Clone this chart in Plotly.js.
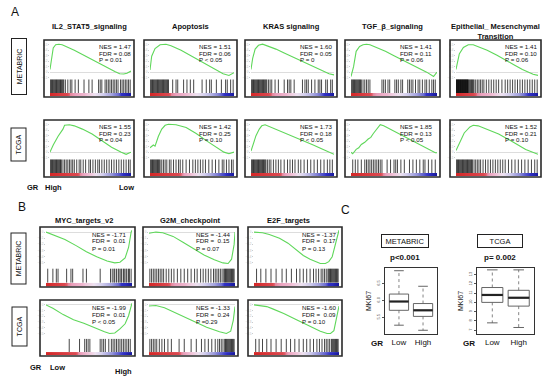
<!DOCTYPE html>
<html><head><meta charset="utf-8">
<script src="https://cdn.plot.ly/plotly-3.0.1.min.js"></script>
<style>html,body{margin:0;padding:0;background:#fff}#chart{width:550px;height:381px}</style>
</head><body><div id="chart"></div>
<script>
// ---------------- DATA ----------------
// Panel A titles / stats
const titlesA = ['IL2_STAT5_signaling','Apoptosis','KRAS signaling','TGF_\u03b2_signaling','Epithelial_ Mesenchymal<br>Transition'];
const nesA_METABRIC = [1.47,1.51,1.60,1.41,1.41];
const fdrA_METABRIC = [0.08,0.06,0.05,0.11,0.10];
const pA_METABRIC = ['P = 0.01','P < 0.05','P = 0','P = 0.06','P = 0.06'];
const nesA_TCGA = [1.55,1.42,1.73,1.85,1.52];
const fdrA_TCGA = [0.23,0.25,0.18,0.13,0.21];
const pA_TCGA = ['P = 0.04','P = 0.10','P < 0.05','P < 0.05','P = 0.10'];
// Panel B titles / stats
const titlesB = ['MYC_targets_v2','G2M_checkpoint','E2F_targets'];
const nesB_METABRIC = [-1.71,-1.44,-1.37];
const fdrB_METABRIC = [0.01,0.15,0.17];
const pB_METABRIC = ['P = 0.01','P = 0.07','P = 0.13'];
const nesB_TCGA = [-1.99,-1.33,-1.60];
const fdrB_TCGA = [0.01,0.24,0.09];
const pB_TCGA = ['P < 0.05','P =0.29','P = 0.10'];

// Running enrichment score curves (x = rank position %, y = ES)
const esX_A1=[0,2,4,7,11,15,20,30,40,50,60,70,80,86,91,95,100];
const esY_A1=[0.05,0.3,0.44,0.5,0.51,0.5,0.47,0.4,0.32,0.24,0.16,0.08,0.01,-0.03,-0.035,-0.02,0.02];
const esX_A2=[0,2,6,12,19,25,37,50,62,75,87,94,100];
const esY_A2=[0.04,0.29,0.43,0.5,0.51,0.48,0.4,0.29,0.18,0.07,-0.03,-0.06,-0.01];
const esX_A3=[0,2,5,9,14,20,30,40,50,60,70,80,88,94,100];
const esY_A3=[0.05,0.25,0.42,0.49,0.51,0.48,0.42,0.35,0.28,0.2,0.13,0.06,0.0,-0.03,-0.05];
const esX_A4=[0,3,6,10,14,18,22,30,40,50,60,70,80,88,96,100];
const esY_A4=[-0.08,0.1,0.38,0.47,0.5,0.51,0.5,0.45,0.38,0.3,0.22,0.14,0.06,0.0,-0.08,0.0];
const esX_A5=[0,4,9,15,21,30,38,50,60,70,81,88,94,100];
const esY_A5=[0.05,0.33,0.45,0.5,0.5,0.45,0.4,0.31,0.22,0.14,0.05,0.0,-0.04,-0.06];
const esX_A6=[0,4,10,16,18,24,30,40,52,64,76,88,94,100];
const esY_A6=[0.0,0.13,0.29,0.42,0.49,0.5,0.48,0.42,0.33,0.21,0.09,0.0,-0.04,0.0];
const esX_A7=[0,4,6,10,14,18,22,31,43,55,67,80,88,94,100];
const esY_A7=[0.08,0.13,0.11,0.29,0.42,0.49,0.51,0.5,0.45,0.34,0.21,0.08,0.0,-0.03,0.0];
const esX_A8=[0,3,6,10,13,17,25,35,45,55,65,75,85,93,100];
const esY_A8=[0.02,0.15,0.3,0.42,0.48,0.5,0.45,0.39,0.33,0.26,0.2,0.13,0.06,0.0,-0.04];
const esX_A9=[0,2,6,9,12,16,20,23,26,30,34,38,44,60,76,92,98,100];
const esY_A9=[0.0,-0.03,0.05,0.08,0.14,0.18,0.24,0.27,0.34,0.41,0.5,0.48,0.43,0.3,0.16,0.04,-0.01,-0.01];
const esX_A10=[0,4,10,17,21,27,35,52,69,85,100];
const esY_A10=[0.03,0.16,0.35,0.46,0.49,0.48,0.43,0.33,0.19,0.05,-0.04];
const esX_B1=[0,10,22,35,47,59,71,80,86,92,96,99,100];
const esY_B1=[0,-0.05,-0.12,-0.22,-0.32,-0.4,-0.47,-0.5,-0.49,-0.42,-0.25,0.0,0.03];
const esX_B2=[0,8,16,28,40,52,64,76,86,92,96,99,100];
const esY_B2=[-0.02,0,-0.01,-0.07,-0.17,-0.27,-0.37,-0.45,-0.5,-0.51,-0.44,-0.2,0];
const esX_B3=[0,10,18,30,40,50,58,66,72,78,84,88,92,96,100];
const esY_B3=[0,-0.01,-0.04,-0.1,-0.18,-0.3,-0.38,-0.44,-0.48,-0.51,-0.51,-0.48,-0.4,-0.2,0.03];
const esX_B4=[0,8,20,32,44,56,68,74,80,86,92,96,99,100];
const esY_B4=[0,-0.06,-0.17,-0.26,-0.32,-0.4,-0.47,-0.5,-0.49,-0.42,-0.33,-0.19,-0.02,0.03];
const esX_B5=[0,8,18,35,51,67,82,90,95,98,100];
const esY_B5=[-0.02,-0.01,-0.05,-0.17,-0.28,-0.39,-0.47,-0.5,-0.46,-0.27,-0.03];
const esX_B6=[0,8,15,22,35,50,65,78,86,90,94,97,100];
const esY_B6=[0,-0.01,-0.03,-0.07,-0.15,-0.26,-0.37,-0.46,-0.5,-0.5,-0.45,-0.25,-0.02];

// Gene-set hit positions (rank %)
const hits_A1=[0,1,2,3,4,5,6,7,8,9,10,11,12,13,14,15,16,17,19,22,25,27,31,35,42,48,52,60,62,64,68,70,72,74,76,78,80,82,84,87,89,91,93,95,97,99];
const hits_A2=[0,1,2,3,4,5,6,7,8,9,10,11,12,13,14,15,16,17,18,19,20,21,22,27,31,33,40,44,48,52,62,67,71,73,79,85,90,92,96,99];
const hits_A3=[0,1,2,3,4,5,6,7,8,9,10,11,12,13,14,15,16,17,18,19,21,23,25,29,33,40,44,46,48,52,62,65,67,69,73,77,81,83,85,90,92,96,98];
const hits_A4=[0,1,2,3,4,5,6,7,8,9,10,11,12,14,16,18,20,22,36,38,40,43,45,51,53,55,58,60,66,68,70,72,75,78,80,83,86,88,91,94,96,98];
const hits_A5=[0,0.5,1,1.5,2,2.5,3,3.5,4,4.5,5,5.5,6,6.5,7,7.5,8,8.5,9,9.5,10,10.5,11,11.5,12,12.5,13,13.5,14,14.5,15,16,17,18,19,20,21,22,24,26,28,30,32,34,37,40,43,46,49,52,56,60,63,66,69,72,75,78,81,84,87,90,93,96,99];
const hits_A6=[0,1,2,3,4,5,6,7,8,9,10,11,12,13,14,16,18,20,22,24,26,28,30,33,36,38,41,44,48,50,53,56,59,61,64,67,70,73,76,79,82,85,88,91,94,97,99];
const hits_A7=[0,1,2,3,4,5,6,7,8,9,10,11,12,14,16,18,20,23,25,28,31,34,36,39,43,47,51,54,57,60,63,66,70,74,78,82,86,88,91,94,97,99];
const hits_A8=[0,1,2,3,4,5,6,7,8,9,10,11,12,13,14,15,16,17,18,20,22,24,27,30,33,36,40,44,47,50,53,57,60,64,68,72,76,80,84,88,92,95,98];
const hits_A9=[2,5,8,12,16,18,20,22,24,26,28,30,32,34,36,42,46,50,52,54,58,62,68,72,76,80,84,86,90,94,98];
const hits_A10=[0,1,2,3,4,5,6,7,8,9,10,11,12,13,14,15,16,17,18,19,20,22,24,26,28,30,33,36,39,42,45,48,51,54,57,60,64,68,72,76,80,84,88,92,96,99];
const hits_B1=[2,8,12,14,24,29,31,43,47,63,75,77,79,80,82,84,85,87,88,90,91,93,94,96,97,99];
const hits_B2=[1,3,5,7,9,11,13,15,17,20,23,26,29,33,37,41,45,49,53,56,60,63,66,69,72,75,77,79,81,83,85,87,88,89,90,91,92,93,94,95,96,97,98,99];
const hits_B3=[3,8,14,20,26,33,38,44,50,54,58,62,66,70,73,76,79,81,83,85,87,88,89,90,91,92,93,94,95,96,97,98,99];
const hits_B4=[27,39,45,47,49,51,63,65,67,69,73,76,78,80,82,84,86,88,90,92,94,96,98];
const hits_B5=[1,3,5,7,9,12,15,18,22,26,35,41,49,55,61,65,69,73,77,80,82,84,86,88,89,90,91,92,93,94,95,96,97,98,99];
const hits_B6=[2,6,10,15,20,26,32,38,43,48,53,58,62,66,70,74,77,80,83,85,87,89,91,92,93,94,95,96,97,98,99];

// Ranked-list metric shown as the red-blue bar
const rankMetricMETABRIC=[1.0,0.95,0.9,0.85,0.8,0.75,0.5,0.45,0.4,0.35,0.3,0.2,0.12,0.05,-0.02,-0.1,-0.18,-0.26,-0.34,-0.45,-0.55,-0.75,-0.8,-0.9,-1.0];
const rankMetricTCGA=[1.0,0.97,0.94,0.9,0.87,0.84,0.8,0.77,0.74,0.5,0.4,0.3,0.2,0.1,0.0,-0.1,-0.2,-0.3,-0.4,-0.5,-0.6,-0.7,-0.8,-0.9,-1.0];

// Panel C: MKI67 box statistics
const groupsC=['Low','High'];
const mki_METABRIC_q1=[5.71,5.53], mki_METABRIC_med=[5.97,5.71], mki_METABRIC_q3=[6.19,5.91], mki_METABRIC_lo=[5.27,5.12], mki_METABRIC_hi=[6.88,6.42];
const mki_TCGA_q1=[10.0,9.6], mki_TCGA_med=[10.8,10.5], mki_TCGA_q3=[11.6,11.3], mki_TCGA_lo=[7.8,7.3], mki_TCGA_hi=[13.5,13.5];
const ticksC_METABRIC=[5.5,6.0,6.5], ticksC_TCGA=[7,8,9,10,11,12,13];

// ---------------- LAYOUT / DRAWING ----------------
const W=550,H=381;
const FONT='Liberation Sans, Arial, Helvetica, sans-serif';
const fx=v=>v/W, fy=v=>1-v/H;
const colsA=[[44,134],[144,237],[245,337],[345,440],[450,541]];
const rowsA=[[40,97],[120,177]];
const colsB=[[40,135],[143,238],[248,342]];
const rowsB=[[227,287],[300,356]];

const esX={A1:esX_A1,A2:esX_A2,A3:esX_A3,A4:esX_A4,A5:esX_A5,A6:esX_A6,A7:esX_A7,A8:esX_A8,A9:esX_A9,A10:esX_A10,B1:esX_B1,B2:esX_B2,B3:esX_B3,B4:esX_B4,B5:esX_B5,B6:esX_B6};
const esY={A1:esY_A1,A2:esY_A2,A3:esY_A3,A4:esY_A4,A5:esY_A5,A6:esY_A6,A7:esY_A7,A8:esY_A8,A9:esY_A9,A10:esY_A10,B1:esY_B1,B2:esY_B2,B3:esY_B3,B4:esY_B4,B5:esY_B5,B6:esY_B6};
const hits={A1:hits_A1,A2:hits_A2,A3:hits_A3,A4:hits_A4,A5:hits_A5,A6:hits_A6,A7:hits_A7,A8:hits_A8,A9:hits_A9,A10:hits_A10,B1:hits_B1,B2:hits_B2,B3:hits_B3,B4:hits_B4,B5:hits_B5,B6:hits_B6};

const panels=[];
for(let r=0;r<2;r++)for(let c=0;c<5;c++){
  const k='A'+(r*5+c+1);
  panels.push({key:k,x0:colsA[c][0],x1:colsA[c][1],y0:rowsA[r][0],y1:rowsA[r][1],
    metric:r===0?rankMetricMETABRIC:rankMetricTCGA, yr:[-0.1,0.55],
    nes:(r===0?nesA_METABRIC:nesA_TCGA)[c], fdr:(r===0?fdrA_METABRIC:fdrA_TCGA)[c], p:(r===0?pA_METABRIC:pA_TCGA)[c], tdx:53, neg:false});
}
for(let r=0;r<2;r++)for(let c=0;c<3;c++){
  const k='B'+(r*3+c+1);
  panels.push({key:k,x0:colsB[c][0],x1:colsB[c][1],y0:rowsB[r][0],y1:rowsB[r][1],
    metric:r===0?rankMetricMETABRIC:rankMetricTCGA, yr:[-0.56,0.05],
    nes:(r===0?nesB_METABRIC:nesB_TCGA)[c], fdr:(r===0?fdrB_METABRIC:fdrB_TCGA)[c], p:(r===0?pB_METABRIC:pB_TCGA)[c], tdx:[50,51,52][c], neg:true});
}

const colorscale=[[0,'#17179a'],[0.12,'#2f2fc4'],[0.28,'#8e8ed8'],[0.42,'#cfcbec'],[0.52,'#eee2f0'],[0.62,'#f0c0d6'],[0.72,'#eaa0bc'],[0.8,'#e05a66'],[1,'#d42828']];

const data=[], layout={width:W,height:H,margin:{l:0,r:0,t:0,b:0},paper_bgcolor:'#fff',plot_bgcolor:'rgba(0,0,0,0)',showlegend:false,font:{family:FONT,color:'#111'},shapes:[],annotations:[]};
const ann=(o)=>layout.annotations.push(Object.assign({xref:'paper',yref:'paper',showarrow:false,font:{family:FONT,size:7.5,color:'#111'}},o));

panels.forEach((p,idx)=>{
  const i=idx+1, hgt=p.y1-p.y0;
  const xa='x'+i, yc='y'+(3*i-2), yb='y'+(3*i-1), yg='y'+(3*i);
  layout['xaxis'+(i===1?'':i)]={domain:[fx(p.x0+6),fx(p.x1-3)],range:[0,100],visible:false,anchor:yc,fixedrange:true};
  layout['yaxis'+(3*i-2===1?'':3*i-2)]={domain:[fy(p.y0+0.66*hgt),fy(p.y0+2)],range:p.yr,anchor:xa,showgrid:false,
    zeroline:true,zerolinecolor:'#cfcfcf',zerolinewidth:0.7,showline:false,ticks:'outside',ticklen:1,tickcolor:'#ccc',
    dtick:0.1,showticklabels:true,tickfont:{size:3,color:'#bbb',family:FONT},fixedrange:true};
  layout['yaxis'+(3*i-1)]={domain:[fy(p.y0+0.93*hgt),fy(p.y0+0.69*hgt)],range:[0,1],anchor:xa,visible:false,fixedrange:true};
  layout['yaxis'+(3*i)]={domain:[fy(p.y1-0.5),fy(p.y0+0.93*hgt)],range:[-0.5,0.5],anchor:xa,visible:false,fixedrange:true};
  // gradient bar
  const n=p.metric.length;
  data.push({type:'heatmap',z:[p.metric],x:p.metric.map((_,j)=>j*100/(n-1)),y:[0],xaxis:xa,yaxis:yg,
    colorscale:colorscale,zmin:-1,zmax:1,showscale:false,zsmooth:'best',hoverinfo:'skip'});
  // barcode
  const bx=[],by=[];
  hits[p.key].forEach(h=>{bx.push(h,h,null);by.push(0,1,null);});
  data.push({type:'scatter',mode:'lines',x:bx,y:by,xaxis:xa,yaxis:yb,line:{color:'rgba(0,0,0,0.72)',width:1},hoverinfo:'skip'});
  // ES curve
  data.push({type:'scatter',mode:'lines',x:esX[p.key],y:esY[p.key],xaxis:xa,yaxis:yc,line:{color:'#5fd75a',width:1.1},hoverinfo:'skip'});
  // frame
  layout.shapes.push({type:'rect',xref:'paper',yref:'paper',x0:fx(p.x0),x1:fx(p.x1),y0:fy(p.y1),y1:fy(p.y0),line:{color:'#2a2a2a',width:1.6}});
  // stats text
  const sp='\u00a0';
  const lines=p.neg?['NES = '+p.nes.toFixed(2),'FDR ='+sp+sp+p.fdr.toFixed(2),p.p]:['NES = '+p.nes.toFixed(2),'FDR = '+p.fdr.toFixed(2),p.p];
  const dys=p.neg?[7,14,21]:[6.5,13,19.5];
  lines.forEach((t,j)=>ann({text:t,x:fx(p.x0+p.tdx),y:fy(p.y0+dys[j]),xanchor:'left',yanchor:'middle',font:{family:FONT,size:6.2,color:'#111'}}));
});

// Titles
const bold=t=>'<b>'+t+'</b>';
colsA.forEach((c,j)=>{
  const two=titlesA[j].indexOf('<br>')>=0;
  ann({text:bold(titlesA[j]),x:fx((c[0]+c[1])/2),y:fy(two?31:26),xanchor:'center',yanchor:'middle',font:{family:FONT,size:7.5,color:'#111'}});
});
const titleBx=[84,190,288];
titlesB.forEach((t,j)=>ann({text:bold(t),x:fx(titleBx[j]),y:fy(220),xanchor:'center',yanchor:'middle',font:{family:FONT,size:7.5,color:'#111'}}));

// Panel letters
ann({text:'A',x:fx(15),y:fy(12),xanchor:'center',yanchor:'middle',font:{family:FONT,size:12,color:'#111'}});
ann({text:'B',x:fx(22),y:fy(207),xanchor:'center',yanchor:'middle',font:{family:FONT,size:12,color:'#111'}});
ann({text:'C',x:fx(345),y:fy(210),xanchor:'center',yanchor:'middle',font:{family:FONT,size:12,color:'#111'}});

// Row label boxes (rotated)
const rowLab=(t,cx,cy,len)=>ann({text:t,x:fx(cx),y:fy(cy),xanchor:'center',yanchor:'middle',textangle:-90,width:len,height:10,
  bordercolor:'#222',borderwidth:1,borderpad:2,bgcolor:'#fff',font:{family:FONT,size:7,color:'#111'}});
rowLab('METABRIC',18.5,66.5,51);
rowLab('TCGA',18.5,145,28);
rowLab('METABRIC',18.5,259,46);
rowLab('TCGA',19.5,327,34);

// GR labels
const gr=(t,x,y,b)=>ann({text:b?bold(t):t,x:fx(x),y:fy(y),xanchor:'center',yanchor:'middle',font:{family:FONT,size:7.5,color:'#111'}});
gr('GR',33,187,true); gr('High',53,187,true); gr('Low',126,187,true);
gr('GR',36,367,true); gr('Low',57,367,true); gr('High',123,371,true);

// Panel C
function boxPanel(ix,iy,xr,yr,dom,q1,med,q3,lo,hi,ticks,tickText){
  const xa='x'+ix, ya='y'+iy;
  layout['xaxis'+ix]={domain:[fx(dom[0]),fx(dom[1])],range:xr,anchor:ya,tickvals:[1,2],ticktext:groupsC,ticks:'',
    showline:true,mirror:true,linecolor:'#333',linewidth:1,showgrid:false,zeroline:false,tickfont:{family:FONT,size:8,color:'#111'},fixedrange:true};
  layout['yaxis'+iy]={domain:[fy(334),fy(268)],range:yr,anchor:xa,tickvals:ticks,ticktext:tickText,tickangle:-90,ticks:'outside',ticklen:2,tickcolor:'#555',
    showline:true,mirror:true,linecolor:'#333',linewidth:1,showgrid:false,zeroline:false,tickfont:{family:FONT,size:4,color:'#444'},
    title:{text:'MKI67',font:{family:FONT,size:7,color:'#111'},standoff:3},fixedrange:true};
  data.push({type:'box',x:[1,2],q1:q1,median:med,q3:q3,lowerfence:q1,upperfence:q3,width:0.8,whiskerwidth:0,
    xaxis:xa,yaxis:ya,line:{color:'#555',width:0.9},fillcolor:'#fff',hoverinfo:'skip',boxpoints:false});
  const wx=[],wy=[],cx=[],cy=[],mx=[],my=[];
  [0,1].forEach(k=>{
    const c=k+1;
    wx.push(c,c,null,c,c,null); wy.push(q3[k],hi[k],null,q1[k],lo[k],null);
    cx.push(c-0.2,c+0.2,null,c-0.2,c+0.2,null); cy.push(hi[k],hi[k],null,lo[k],lo[k],null);
    mx.push(c-0.4,c+0.4,null); my.push(med[k],med[k],null);
  });
  data.push({type:'scatter',mode:'lines',x:wx,y:wy,xaxis:xa,yaxis:ya,line:{color:'#666',width:0.8,dash:'dot'},hoverinfo:'skip'});
  data.push({type:'scatter',mode:'lines',x:cx,y:cy,xaxis:xa,yaxis:ya,line:{color:'#555',width:0.9},hoverinfo:'skip'});
  data.push({type:'scatter',mode:'lines',x:mx,y:my,xaxis:xa,yaxis:ya,line:{color:'#222',width:2.2},hoverinfo:'skip'});
}
boxPanel(17,49,[0.42,2.58],[5.01,6.96],[385,437],mki_METABRIC_q1,mki_METABRIC_med,mki_METABRIC_q3,mki_METABRIC_lo,mki_METABRIC_hi,ticksC_METABRIC,ticksC_METABRIC.map(v=>v.toFixed(1)));
boxPanel(18,50,[0.42,2.58],[6.6,13.7],[477,534],mki_TCGA_q1,mki_TCGA_med,mki_TCGA_q3,mki_TCGA_lo,mki_TCGA_hi,ticksC_TCGA,ticksC_TCGA.map(String));

const boxLab=(t,cx,w)=>ann({text:t,x:fx(cx),y:fy(241),xanchor:'center',yanchor:'middle',width:w,height:8,bordercolor:'#222',borderwidth:1,borderpad:2,
  font:{family:FONT,size:7.5,color:'#111'}});
boxLab('METABRIC',405,42); boxLab('TCGA',500,40);
ann({text:bold('p<0.001'),x:fx(405),y:fy(257),xanchor:'center',yanchor:'middle',font:{family:FONT,size:8,color:'#111'}});
ann({text:bold('p= 0.002'),x:fx(500),y:fy(257),xanchor:'center',yanchor:'middle',font:{family:FONT,size:8,color:'#111'}});
ann({text:bold('GR'),x:fx(377),y:fy(343),xanchor:'center',yanchor:'middle',font:{family:FONT,size:8,color:'#111'}});
ann({text:bold('GR'),x:fx(469),y:fy(343),xanchor:'center',yanchor:'middle',font:{family:FONT,size:8,color:'#111'}});

Plotly.newPlot('chart',data,layout,{displayModeBar:false,staticPlot:true});
</script></body></html>
